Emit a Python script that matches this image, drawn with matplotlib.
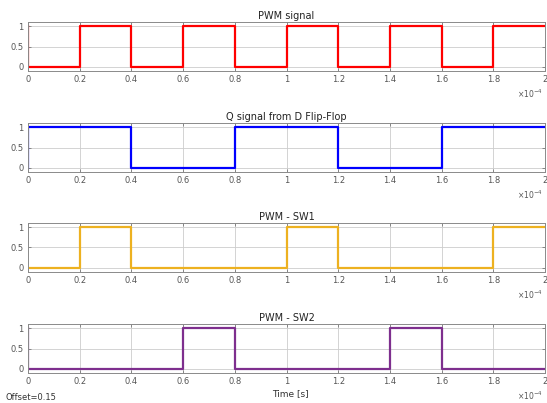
import numpy as np
import matplotlib
matplotlib.use("Agg")
import matplotlib.pyplot as plt

# time in units of 1e-4 s
t = [0, 0, 0.2, 0.4, 0.6, 0.8, 1.0, 1.2, 1.4, 1.6, 1.8, 2.0]
pwm = [1, 0, 1, 0, 1, 0, 1, 0, 1, 0, 1, 1]
q = [0, 1, 1, 0, 0, 1, 1, 0, 0, 1, 1, 1]
sw1 = [0, 0, 1, 0, 0, 0, 1, 0, 0, 0, 1, 1]
sw2 = [1, 0, 0, 0, 1, 0, 0, 0, 1, 0, 0, 0]

titles = ["PWM signal", "Q signal from D Flip-Flop", "PWM - SW1", "PWM - SW2"]
signals = [pwm, q, sw1, sw2]
colors = ["#ff0000", "#0000ff", "#EDB120", "#7E2F8E"]
xticks = [0, 0.2, 0.4, 0.6, 0.8, 1, 1.2, 1.4, 1.6, 1.8, 2]
xticklabels = ["0", "0.2", "0.4", "0.6", "0.8", "1", "1.2", "1.4", "1.6", "1.8", "2"]

W, H = 547, 403
fig = plt.figure(figsize=(W / 100, H / 100), dpi=100)

tops = [22, 123, 223, 324]
left, right, h = 28, 545, 49

for top, sig, col, title in zip(tops, signals, colors, titles):
    ax = fig.add_axes([left / W, (H - top - h) / H, (right - left) / W, h / H])
    ax.plot(t, sig, drawstyle="steps-post", color=col, lw=1.6)
    ax.set_xlim(0, 2)
    ax.set_ylim(-0.1, 1.1)
    ax.set_xticks(xticks)
    ax.set_xticklabels(xticklabels)
    ax.set_yticks([0, 0.5, 1])
    ax.set_yticklabels(["0", "0.5", "1"])
    ax.grid(True, color="#cccccc", lw=0.6)
    ax.tick_params(direction="in", top=True, right=True, length=2.5, width=0.5,
                   labelsize=6, labelcolor="#555555", color="#666666", pad=3)
    for s in ax.spines.values():
        s.set_color("#8a8a8a")
        s.set_linewidth(0.7)
    ax.set_title(title, fontsize=7, color="#222222", pad=2.5)
    ax.text(0.995, -0.33, r"$\times10^{-4}$", transform=ax.transAxes, ha="right",
            va="top", fontsize=5.5, color="#555555")

fig.text(290 / W, 1 - 394 / H, "Time [s]", ha="center", va="center", fontsize=6.5, color="#333333")
fig.text(5 / W, 1 - 397 / H, "Offset=0.15", ha="left", va="center", fontsize=6, color="#333333")

fig.savefig("out.png", dpi=100)
